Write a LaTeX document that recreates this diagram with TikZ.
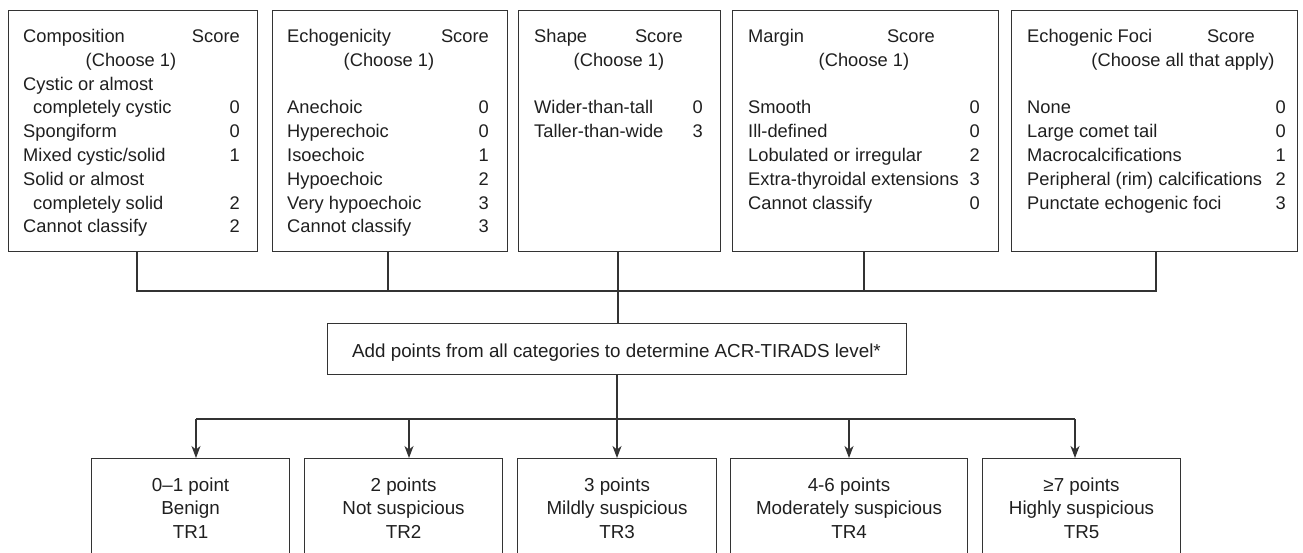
\documentclass[tikz,border=0pt]{standalone}
\usepackage{fontspec}
\setmainfont{Liberation Sans}
\usetikzlibrary{arrows.meta}

\begin{document}
\begin{tikzpicture}[x=1pt,y=-1pt,>={Stealth[length=12pt,width=9pt,inset=3.5pt]},
  box/.style={draw=black!80,line width=1.1pt,inner sep=0pt,anchor=north west},
  txt/.style={font=\fontsize{18.3}{22}\selectfont,text=black!88,inner sep=0pt},
  bigtxt/.style={txt,font=\fontsize{18.8}{22}\selectfont},
  conn/.style={draw=black!80,line width=1.1pt}]
  \useasboundingbox (0,0) rectangle (1303,552);
  \clip (0,0) rectangle (1303,552);
  % category boxes
  \node[box,minimum width=249pt,minimum height=241pt] (comp) at (8,10) {};
  \node[box,minimum width=235pt,minimum height=241pt] (echo) at (272,10) {};
  \node[box,minimum width=202pt,minimum height=241pt] (shape) at (518,10) {};
  \node[box,minimum width=266pt,minimum height=241pt] (margin) at (732,10) {};
  \node[box,minimum width=286pt,minimum height=241pt] (foci) at (1011,10) {};
  % headers
  \node[txt,anchor=base west] (comp-h) at (23,42.5) {Composition};
  \node[txt,anchor=base east] (comp-hs) at (240,42.5) {Score};
  \node[txt,anchor=base] (comp-c) at (131,66.3) {(Choose 1)};
  \node[txt,anchor=base west] (echo-h) at (287,42.5) {Echogenicity};
  \node[txt,anchor=base east] (echo-hs) at (489,42.5) {Score};
  \node[txt,anchor=base] (echo-c) at (389,66.3) {(Choose 1)};
  \node[txt,anchor=base west] (shape-h) at (534,42.5) {Shape};
  \node[txt,anchor=base east] (shape-hs) at (683,42.5) {Score};
  \node[txt,anchor=base] (shape-c) at (619,66.3) {(Choose 1)};
  \node[txt,anchor=base west] (margin-h) at (748,42.5) {Margin};
  \node[txt,anchor=base east] (margin-hs) at (935,42.5) {Score};
  \node[txt,anchor=base] (margin-c) at (864,66.3) {(Choose 1)};
  \node[txt,anchor=base west] (foci-h) at (1027,42.5) {Echogenic Foci};
  \node[txt,anchor=base east] (foci-hs) at (1255,42.5) {Score};
  \node[txt,anchor=base] (foci-c) at (1183,66.3) {(Choose all that apply)};
  % rows
  \foreach \k/\lx/\lbl/\pts in {2/23/Cystic or almost/{},3/33/completely cystic/0,4/23/Spongiform/0,
      5/23/Mixed cystic\slash solid/1,6/23/Solid or almost/{},7/33/completely solid/2,8/23/Cannot classify/2}{
    \node[txt,anchor=base west] (comp-l\k) at (\lx,{42.5+23.8*\k}) {\lbl};
    \node[txt,anchor=base east] (comp-s\k) at (240,{42.5+23.8*\k}) {\pts};
  }
  \foreach \k/\lbl/\pts in {3/Anechoic/0,4/Hyperechoic/0,5/Isoechoic/1,6/Hypoechoic/2,
      7/Very hypoechoic/3,8/Cannot classify/3}{
    \node[txt,anchor=base west] (echo-l\k) at (287,{42.5+23.8*\k}) {\lbl};
    \node[txt,anchor=base east] (echo-s\k) at (489,{42.5+23.8*\k}) {\pts};
  }
  \foreach \k/\lbl/\pts in {3/Wider-than-tall/0,4/Taller-than-wide/3}{
    \node[txt,anchor=base west] (shape-l\k) at (534,{42.5+23.8*\k}) {\lbl};
    \node[txt,anchor=base east] (shape-s\k) at (703,{42.5+23.8*\k}) {\pts};
  }
  \foreach \k/\lbl/\pts in {3/Smooth/0,4/Ill-defined/0,5/Lobulated or irregular/2,
      6/Extra-thyroidal extensions/3,7/Cannot classify/0}{
    \node[txt,anchor=base west] (margin-l\k) at (748,{42.5+23.8*\k}) {\lbl};
    \node[txt,anchor=base east] (margin-s\k) at (980,{42.5+23.8*\k}) {\pts};
  }
  \foreach \k/\lbl/\pts in {3/None/0,4/Large comet tail/0,5/Macrocalcifications/1,
      6/Peripheral (rim) calcifications/2,7/Punctate echogenic foci/3}{
    \node[txt,anchor=base west] (foci-l\k) at (1027,{42.5+23.8*\k}) {\lbl};
    \node[txt,anchor=base east] (foci-s\k) at (1286,{42.5+23.8*\k}) {\pts};
  }
  % sum box
  \node[box,minimum width=579pt,minimum height=51pt] (total) at (327,323) {};
  \node[bigtxt,anchor=base] (total-t) at (616.5,357.5) {Add points from all categories to determine ACR-TIRADS level*};
  % level boxes
  \node[box,minimum width=198pt,minimum height=120pt] (tr1) at (91,458) {};
  \node[box,minimum width=198pt,minimum height=120pt] (tr2) at (304,458) {};
  \node[box,minimum width=199pt,minimum height=120pt] (tr3) at (517,458) {};
  \node[box,minimum width=237pt,minimum height=120pt] (tr4) at (730,458) {};
  \node[box,minimum width=198pt,minimum height=120pt] (tr5) at (982,458) {};
  \foreach \n/\pts/\risk in {1/0–1 point/Benign,2/2 points/Not suspicious,3/3 points/Mildly suspicious,
      4/4-6 points/Moderately suspicious,5/≥7 points/Highly suspicious}{
    \node[bigtxt,anchor=base] (tr\n-a) at (tr\n.north |- 0,491) {\pts};
    \node[bigtxt,anchor=base] (tr\n-b) at (tr\n.north |- 0,514.5) {\risk};
    \node[bigtxt,anchor=base] (tr\n-c) at (tr\n.north |- 0,538) {TR\n};
  }
  % connectors
  \coordinate (j1) at (137,291);
  \coordinate (j2) at (388,291);
  \coordinate (j3) at (618,291);
  \coordinate (j4) at (864,291);
  \coordinate (j5) at (1156,291);
  \draw[conn] (j1 |- comp.south) -- (j1) -- (j5) -- (j5 |- foci.south);
  \draw[conn] (j2 |- echo.south) -- (j2);
  \draw[conn] (j4 |- margin.south) -- (j4);
  \draw[conn] (j3 |- shape.south) -- (j3 |- total.north);
  \coordinate (b1) at (196,419);
  \coordinate (b2) at (409,419);
  \coordinate (b3) at (617,419);
  \coordinate (b4) at (849,419);
  \coordinate (b5) at (1075,419);
  \draw[conn] (b1) -- (b5);
  \draw[conn,->] (b3 |- total.south) -- (b3 |- tr3.north);
  \foreach \n in {1,2,4,5}{
    \draw[conn,->] (b\n) -- (b\n |- tr\n.north);
  }
\end{tikzpicture}
\end{document}
